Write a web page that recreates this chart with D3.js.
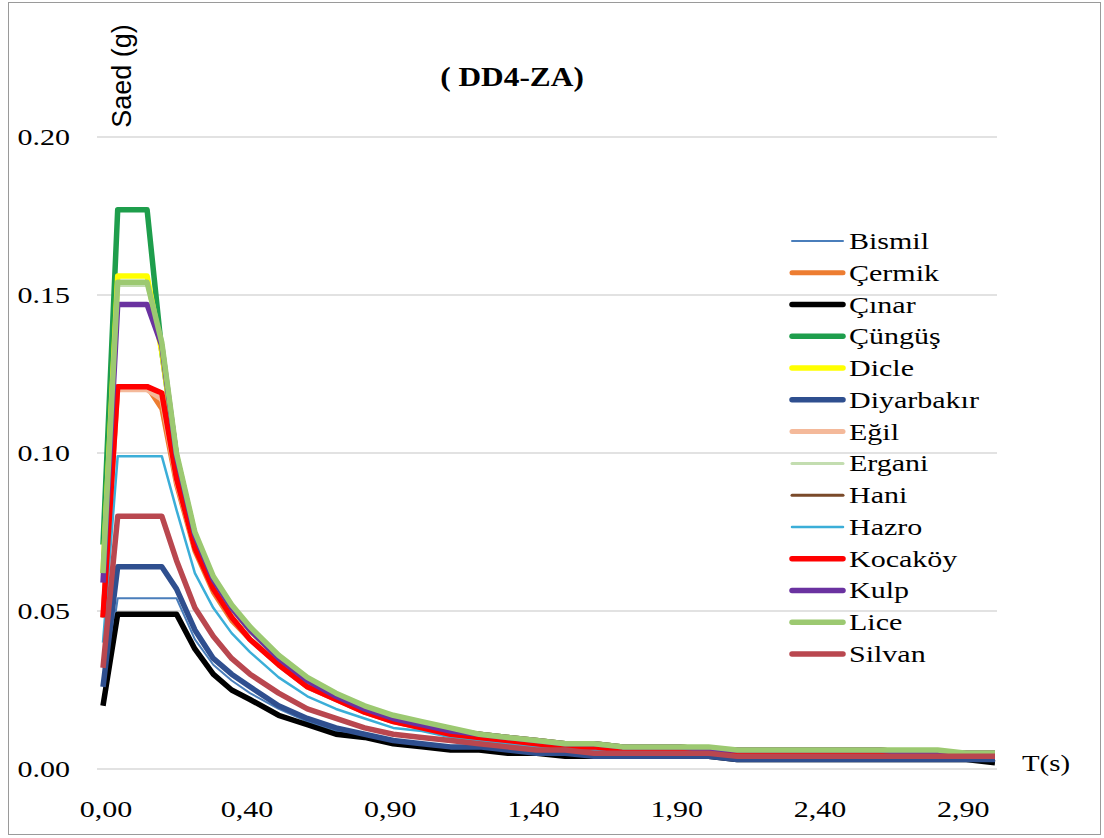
<!DOCTYPE html>
<html>
<head>
<meta charset="utf-8">
<script src="https://cdn.jsdelivr.net/npm/d3@7"></script>
<style>
  body { margin: 0; background: #fff; }
  svg text { font-family: "Liberation Serif", "Times New Roman", serif; fill: #000; }
</style>
</head>
<body>
<div id="chart"></div>
<script>
// periods (s) shared by all stations
var periods = [0, 0.04, 0.12, 0.16, 0.2, 0.25, 0.3, 0.35, 0.4, 0.5, 0.6, 0.7, 0.8, 0.9, 1.0,
  1.1, 1.2, 1.3, 1.4, 1.5, 1.6, 1.7, 1.8, 1.9, 2.0, 2.1, 2.2, 2.3, 2.4, 2.5, 2.6, 2.7, 2.8, 2.9, 3.0];

var xTicks = [0, 0.4, 0.9, 1.4, 1.9, 2.4, 2.9];
var yTicks = [0, 0.05, 0.10, 0.15, 0.20];

var stations = ["Bismil", "Çermik", "Çınar", "Çüngüş", "Dicle", "Diyarbakır", "Eğil",
  "Ergani", "Hani", "Hazro", "Kocaköy", "Kulp", "Lice", "Silvan"];

// Saed (g) for each station at the periods above
var bismil = [0.022, 0.054, 0.054, 0.054, 0.054, 0.041, 0.033, 0.028,
  0.024, 0.019, 0.015, 0.012, 0.010, 0.009, 0.008, 0.007, 0.006, 0.006, 0.005, 0.005, 0.004, 0.004,
  0.004, 0.004, 0.004, 0.003, 0.003, 0.003, 0.003, 0.003, 0.003, 0.003, 0.003, 0.003, 0.003];
var cermik = [0.048, 0.121, 0.121, 0.114, 0.090, 0.069, 0.056, 0.047,
  0.041, 0.033, 0.026, 0.022, 0.018, 0.015, 0.013, 0.011, 0.010, 0.009, 0.008, 0.007, 0.007, 0.006,
  0.006, 0.006, 0.006, 0.005, 0.005, 0.005, 0.005, 0.005, 0.005, 0.005, 0.005, 0.004, 0.004];
var cinar = [0.020, 0.049, 0.049, 0.049, 0.049, 0.038, 0.030, 0.025,
  0.022, 0.017, 0.014, 0.011, 0.010, 0.008, 0.007, 0.006, 0.006, 0.005, 0.005, 0.004, 0.004, 0.004,
  0.004, 0.004, 0.004, 0.003, 0.003, 0.003, 0.003, 0.003, 0.003, 0.003, 0.003, 0.003, 0.002];
var cungus = [0.071, 0.177, 0.177, 0.132, 0.099, 0.074, 0.060, 0.051,
  0.044, 0.035, 0.028, 0.023, 0.019, 0.016, 0.014, 0.012, 0.011, 0.010, 0.009, 0.008, 0.008, 0.007,
  0.007, 0.007, 0.006, 0.006, 0.006, 0.006, 0.006, 0.006, 0.006, 0.005, 0.005, 0.005, 0.005];
var dicle = [0.062, 0.156, 0.156, 0.132, 0.099, 0.074, 0.060, 0.051,
  0.044, 0.035, 0.028, 0.023, 0.019, 0.016, 0.014, 0.012, 0.011, 0.010, 0.009, 0.008, 0.008, 0.007,
  0.007, 0.007, 0.006, 0.006, 0.006, 0.006, 0.006, 0.006, 0.006, 0.005, 0.005, 0.005, 0.005];
var diyarbakir = [0.026, 0.064, 0.064, 0.064, 0.057, 0.044, 0.035, 0.030,
  0.026, 0.020, 0.016, 0.013, 0.011, 0.009, 0.008, 0.007, 0.007, 0.006, 0.005, 0.005, 0.004, 0.004,
  0.004, 0.004, 0.004, 0.003, 0.003, 0.003, 0.003, 0.003, 0.003, 0.003, 0.003, 0.003, 0.003];
var egil = [0.048, 0.120, 0.120, 0.117, 0.091, 0.070, 0.057, 0.048,
  0.041, 0.033, 0.026, 0.022, 0.018, 0.015, 0.013, 0.011, 0.010, 0.009, 0.008, 0.007, 0.007, 0.006,
  0.006, 0.006, 0.006, 0.005, 0.005, 0.005, 0.005, 0.005, 0.005, 0.005, 0.005, 0.004, 0.004];
var ergani = [0.061, 0.153, 0.153, 0.133, 0.099, 0.074, 0.060, 0.051,
  0.044, 0.035, 0.028, 0.023, 0.019, 0.016, 0.014, 0.012, 0.011, 0.010, 0.009, 0.008, 0.008, 0.007,
  0.007, 0.007, 0.006, 0.006, 0.006, 0.006, 0.006, 0.006, 0.006, 0.005, 0.005, 0.005, 0.005];
var hani = [0.048, 0.121, 0.121, 0.119, 0.092, 0.070, 0.057, 0.048,
  0.041, 0.033, 0.026, 0.022, 0.018, 0.015, 0.013, 0.011, 0.010, 0.009, 0.008, 0.007, 0.007, 0.006,
  0.006, 0.006, 0.006, 0.005, 0.005, 0.005, 0.005, 0.005, 0.005, 0.005, 0.005, 0.004, 0.004];
var hazro = [0.040, 0.099, 0.099, 0.099, 0.082, 0.062, 0.051, 0.043,
  0.037, 0.029, 0.023, 0.019, 0.016, 0.013, 0.012, 0.010, 0.009, 0.008, 0.007, 0.007, 0.006, 0.006,
  0.005, 0.005, 0.005, 0.005, 0.005, 0.005, 0.005, 0.004, 0.004, 0.004, 0.004, 0.004, 0.004];
var kocakoy = [0.048, 0.121, 0.121, 0.119, 0.092, 0.070, 0.057, 0.048,
  0.041, 0.033, 0.026, 0.022, 0.018, 0.015, 0.013, 0.011, 0.010, 0.009, 0.008, 0.007, 0.007, 0.006,
  0.006, 0.006, 0.006, 0.005, 0.005, 0.005, 0.005, 0.005, 0.005, 0.005, 0.005, 0.004, 0.004];
var kulp = [0.059, 0.147, 0.147, 0.134, 0.099, 0.074, 0.060, 0.051,
  0.044, 0.035, 0.028, 0.023, 0.019, 0.016, 0.014, 0.012, 0.011, 0.010, 0.009, 0.008, 0.008, 0.007,
  0.007, 0.007, 0.006, 0.006, 0.006, 0.006, 0.006, 0.006, 0.006, 0.005, 0.005, 0.005, 0.005];
var lice = [0.062, 0.154, 0.154, 0.135, 0.100, 0.075, 0.061, 0.052,
  0.045, 0.036, 0.029, 0.024, 0.020, 0.017, 0.015, 0.013, 0.011, 0.010, 0.009, 0.008, 0.008, 0.007,
  0.007, 0.007, 0.007, 0.006, 0.006, 0.006, 0.006, 0.006, 0.006, 0.006, 0.006, 0.005, 0.005];
var silvan = [0.032, 0.080, 0.080, 0.080, 0.066, 0.051, 0.042, 0.035,
  0.030, 0.024, 0.019, 0.016, 0.013, 0.011, 0.010, 0.009, 0.008, 0.007, 0.006, 0.006, 0.005, 0.005,
  0.005, 0.005, 0.005, 0.004, 0.004, 0.004, 0.004, 0.004, 0.004, 0.004, 0.004, 0.004, 0.004];

var values = [bismil, cermik, cinar, cungus, dicle, diyarbakir, egil, ergani, hani, hazro, kocakoy, kulp, lice, silvan];

var colors = ["#4A7EBB", "#ED7D31", "#000000", "#1E9E4C", "#FFFF00", "#2F4F8F", "#F4B99A",
  "#C3DDB0", "#7A4A2A", "#3BAED8", "#FF0000", "#6A32A0", "#9CC971", "#B9474F"];
var widths = [2, 5, 5.5, 5.5, 5.5, 5.5, 5, 3, 3, 2.5, 5.5, 5.5, 5.5, 5.5];

var W = 1104, H = 838;
var svg = d3.select("#chart").append("svg")
  .attr("width", W)
  .attr("height", H);

// chart border
svg.append("rect")
  .attr("x", 8.5).attr("y", 2.5)
  .attr("width", 1092).attr("height", 832)
  .attr("fill", "#fff")
  .attr("stroke", "#9a9a9a");

// period axis: 0-0.4 s is drawn wider than the rest
var x = d3.scaleLinear()
  .domain([0, 0.4, 3.0])
  .range([103, 250, 995]);

var y = d3.scaleLinear()
  .domain([0, 0.2])
  .range([769, 137]);

// gridlines
svg.append("g")
  .selectAll("line")
  .data(yTicks)
  .enter().append("line")
  .attr("x1", 97).attr("x2", 997)
  .attr("y1", d => y(d)).attr("y2", d => y(d))
  .attr("stroke", "#d9d9d9")
  .attr("stroke-width", 1.5);

// y tick labels
svg.append("g")
  .selectAll("text")
  .data(yTicks)
  .enter().append("text")
  .attr("transform", d => "translate(70," + (y(d) + 8) + ") scale(1.25,1)")
  .attr("text-anchor", "end")
  .style("font-size", "24px")
  .text(d => d3.format(".2f")(d));

// x tick labels
svg.append("g")
  .selectAll("text")
  .data(xTicks)
  .enter().append("text")
  .attr("transform", d => "translate(" + (x(d) + (d === 0 ? 3 : -3)) + ",817) scale(1.25,1)")
  .attr("text-anchor", "middle")
  .style("font-size", "24px")
  .text(d => d3.format(".2f")(d).replace(".", ","));

var line = d3.line()
  .x((d, i) => x(periods[i]))
  .y(d => y(d));

svg.append("g")
  .selectAll("path")
  .data(values)
  .enter().append("path")
  .attr("d", d => line(d))
  .attr("fill", "none")
  .attr("stroke", (d, i) => colors[i])
  .attr("stroke-width", (d, i) => widths[i])
  .attr("stroke-linejoin", "round");

// title and axis names
svg.append("text")
  .attr("transform", "translate(512,86) scale(1.12,1)")
  .attr("text-anchor", "middle")
  .style("font-size", "28px")
  .style("font-weight", "bold")
  .text("( DD4-ZA)");

svg.append("text")
  .attr("transform", "translate(131,76) rotate(-90)")
  .attr("text-anchor", "middle")
  .style("font-family", "'Liberation Sans', Arial, sans-serif")
  .style("font-size", "27px")
  .text("Saed (g)");

svg.append("text")
  .attr("transform", "translate(1046,771) scale(1.2,1)")
  .attr("text-anchor", "middle")
  .style("font-size", "24px")
  .text("T(s)");

// legend
var legend = svg.append("g");
var rowY = d3.scalePoint().domain(stations).range([241, 654]);

legend.selectAll("line")
  .data(stations)
  .enter().append("line")
  .attr("x1", 792).attr("x2", 843)
  .attr("y1", d => rowY(d)).attr("y2", d => rowY(d))
  .attr("stroke", (d, i) => colors[i])
  .attr("stroke-width", (d, i) => widths[i])
  .attr("stroke-linecap", "round");

legend.selectAll("text")
  .data(stations)
  .enter().append("text")
  .attr("transform", d => "translate(849," + (rowY(d) + 8) + ") scale(1.25,1)")
  .style("font-size", "24px")
  .text(d => d);
</script>
</body>
</html>
